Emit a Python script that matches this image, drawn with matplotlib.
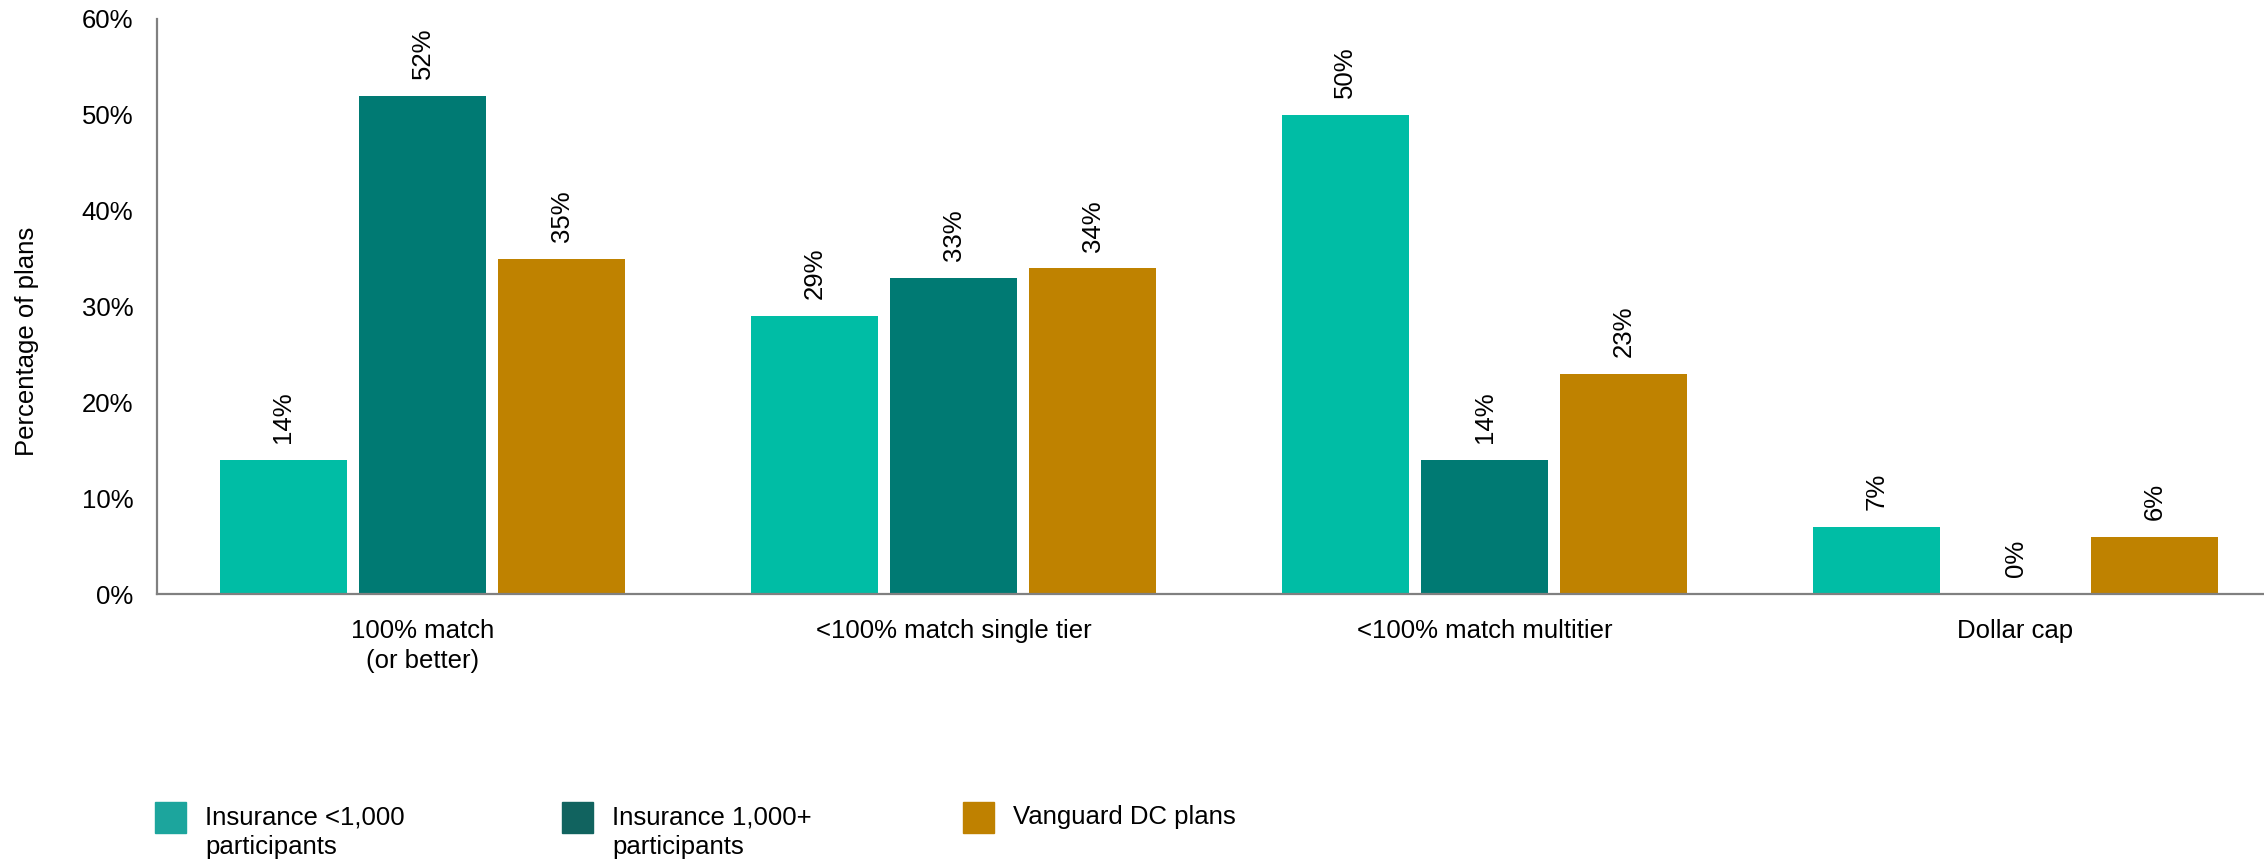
import matplotlib
matplotlib.use("Agg")
import matplotlib.pyplot as plt
from matplotlib.patches import Rectangle
import numpy as np

plt.rcParams['font.family'] = ['Liberation Sans', 'DejaVu Sans']

categories = ["100% match\n(or better)", "<100% match single tier",
              "<100% match multitier", "Dollar cap"]
series_names = ["Insurance <1,000\nparticipants", "Insurance 1,000+\nparticipants",
                "Vanguard DC plans"]
ins_small = [14, 29, 50, 7]
ins_large = [52, 33, 14, 0]
vanguard = [35, 34, 23, 6]
series_values = [ins_small, ins_large, vanguard]
y_ticks = [0, 10, 20, 30, 40, 50, 60]
y_tick_labels = ["0%", "10%", "20%", "30%", "40%", "50%", "60%"]

bar_colors = ["#00BDA5", "#007A73", "#BF8200"]
legend_colors = ["#1CA59D", "#11635F", "#BF8100"]

W, H = 2264, 864
fig = plt.figure(figsize=(W / 100, H / 100), dpi=100)

# axes box in pixel terms
ax_left, ax_right, ax_top, ax_bottom = 157, 2264, 19, 594
ax = fig.add_axes([ax_left / W, 1 - ax_bottom / H,
                   (ax_right - ax_left) / W, (ax_bottom - ax_top) / H])

group_px = 531.0
x = np.arange(len(categories))
width = 0.239
offset = 0.262
fs = 18.5

for i, (vals, col) in enumerate(zip(series_values, bar_colors)):
    xs = x + (i - 1) * offset
    ax.bar(xs, vals, width=width, color=col, zorder=2)
    for xi, v in zip(xs, vals):
        ax.annotate(f"{v}%", (xi, v), xytext=(0, 12), textcoords="offset points",
                    rotation=90, ha="center", va="bottom", fontsize=fs, color="#000000")

ax.set_xlim(-0.5, -0.5 + (ax_right - ax_left) / group_px)
ax.set_ylim(0, 60)
ax.set_yticks(y_ticks)
ax.set_yticklabels(y_tick_labels)
ax.set_xticks(x)
ax.set_xticklabels(categories, linespacing=1.3)
ax.tick_params(axis="y", length=0, pad=17, labelsize=fs, labelcolor="#000000")
ax.tick_params(axis="x", length=0, pad=18, labelsize=fs, labelcolor="#000000")

for s in ["top", "right"]:
    ax.spines[s].set_visible(False)
for s in ["left", "bottom"]:
    ax.spines[s].set_color("#808080")
    ax.spines[s].set_linewidth(1.6)
ax.spines["bottom"].set_zorder(3)

fig.text(27 / W, 1 - 341 / H, "Percentage of plans", rotation=90,
         ha="center", va="center", fontsize=fs, color="#000000")

# legend drawn in figure pixel coordinates
leg_x = [155, 562, 963]
for lx, name, col in zip(leg_x, series_names, legend_colors):
    fig.add_artist(Rectangle(((lx) / W, 1 - 833 / H), 31 / W, 31 / H,
                             transform=fig.transFigure, color=col))
    fig.text((lx + 50) / W, 1 - 805 / H, name, ha="left", va="top",
             fontsize=fs, linespacing=1.3, color="#000000")

fig.savefig("out.png", dpi=100)
